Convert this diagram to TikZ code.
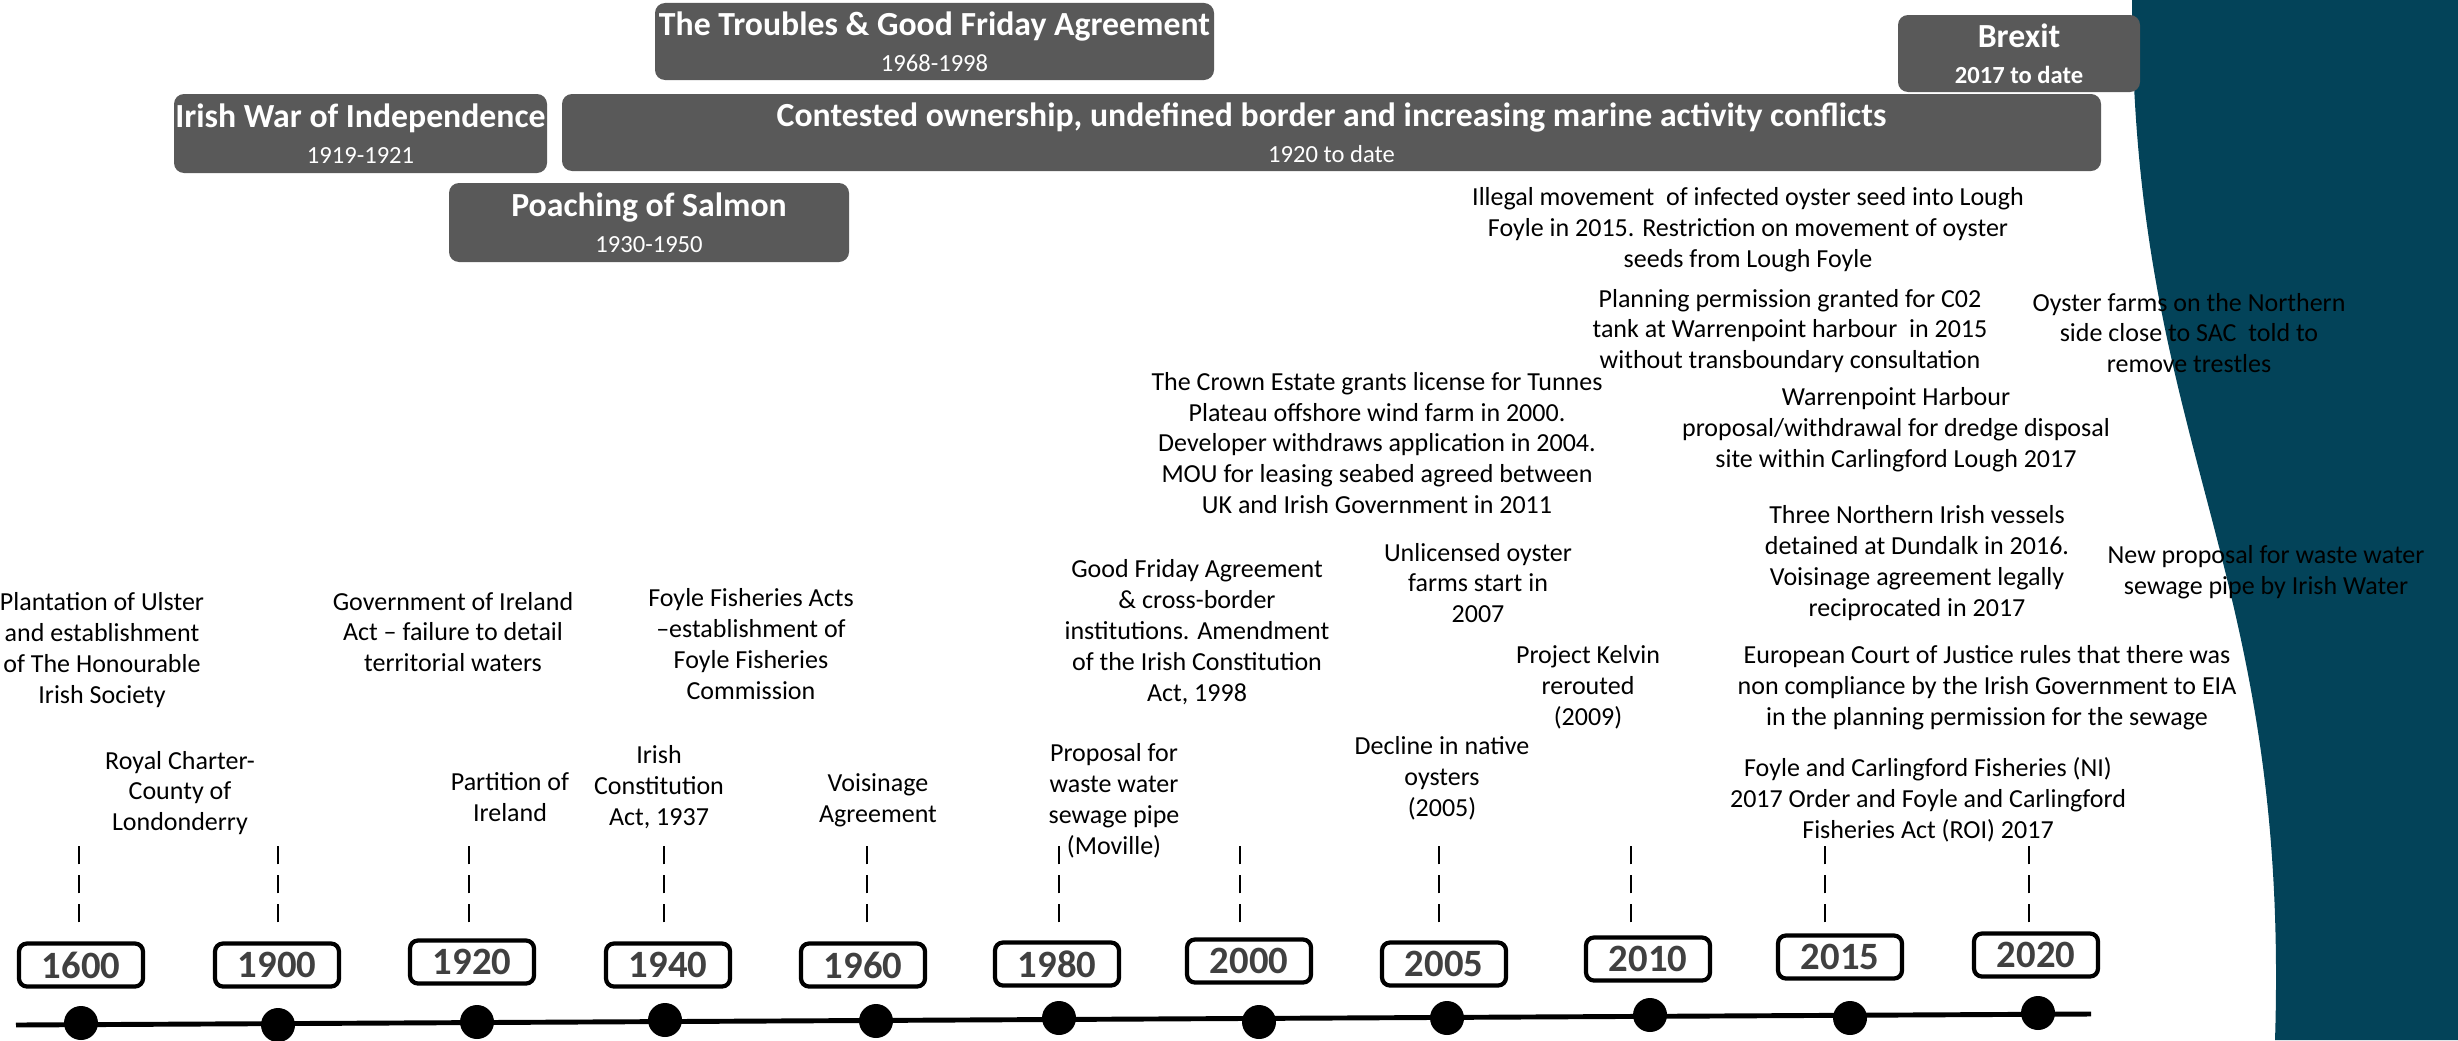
\documentclass[tikz,border=0pt]{standalone}
\usepackage{fontspec}
\setmainfont{Carlito}
\usetikzlibrary{positioning}
\definecolor{sea}{RGB}{3,67,89}
\definecolor{slab}{RGB}{89,89,89}
\definecolor{ink}{RGB}{64,64,64}
\newcommand{\pname}[1]{{\fontsize{9.6}{10.2}\selectfont\bfseries #1}}
\newcommand{\pyears}[1]{{\fontsize{7}{10.2}\selectfont #1}}
\tikzset{
  pr/.style={rectangle, rounded corners=0.1cm, fill=slab, text=white, align=center, inner sep=0pt, font=\fontsize{7}{10.2}\selectfont},
  yr/.style={rectangle, rounded corners=0.08cm, draw=black, line width=1.2pt, fill=white, minimum width=1.24cm, minimum height=0.43cm, inner sep=0pt, text=ink, font=\fontsize{11}{12}\selectfont\bfseries},
  ev/.style={align=center, inner sep=0pt, font=\fontsize{7.4}{8.8}\selectfont},
  dt/.style={circle, fill=black, minimum size=0.34cm, inner sep=0pt},
  tk/.style={dash pattern=on 0.18cm off 0.11cm, line width=0.5pt},
  tl/.style={line width=1.4pt}
}

\begin{document}
\begin{tikzpicture}[x=0.1mm, y=0.1mm]
	\useasboundingbox (0,0) rectangle (2458,1040);
	% sea on the right
	\fill[sea] (2132,1040) .. controls (2132,590) and (2290,480) .. (2275,0) -- (2458,0) -- (2458,1040) -- cycle;
	% periods
	\node[pr, minimum width=5.59cm, minimum height=0.77cm] (troubles) at (934.5,998.5) {\pname{The Troubles \& Good Friday Agreement}\\\pyears{1968-1998}};
	\node[pr, minimum width=3.73cm, minimum height=0.79cm] (war) at (360.5,906.5) {\pname{Irish War of Independence}\\\pyears{1919-1921}};
	\node[pr, minimum width=15.39cm, minimum height=0.77cm] (contested) at (1331.5,907.5) {\pname{Contested ownership, undefined border and increasing marine activity conflicts}\\\pyears{1920 to date}};
	\node[pr, minimum width=4cm, minimum height=0.79cm] (salmon) at (649,817.5) {\pname{Poaching of Salmon}\\\pyears{1930-1950}};
	\node[pr, minimum width=2.42cm, minimum height=0.77cm] (brexit) at (2019,986.5) {\pname{Brexit}\\\pyears{\bfseries 2017 to date}};
	% time line
	\coordinate (tl0) at (16,15);
	\coordinate (tl1) at (2091,26);
	\draw[tl] (tl0) -- (tl1);
	\node[dt] (d1600) at (81,17) {};
	\node[dt] (d1900) at (278,15) {};
	\node[dt] (d1920) at (477,18) {};
	\node[dt] (d1940) at (665,20) {};
	\node[dt] (d1960) at (876,19) {};
	\node[dt] (d1980) at (1059,22) {};
	\node[dt] (d2000) at (1259,18) {};
	\node[dt] (d2005) at (1447,22) {};
	\node[dt] (d2010) at (1650,25) {};
	\node[dt] (d2015) at (1850,22) {};
	\node[dt] (d2020) at (2038,27) {};
	% years
	\node[yr] (y1600) at (81,75) {1600};
	\node[yr] (y1900) at (277,75) {1900};
	\node[yr] (y1920) at (472,78) {1920};
	\node[yr] (y1940) at (668,75) {1940};
	\node[yr] (y1960) at (863,75) {1960};
	\node[yr] (y1980) at (1057,76) {1980};
	\node[yr] (y2000) at (1249,79) {2000};
	\node[yr] (y2005) at (1444,76) {2005};
	\node[yr] (y2010) at (1648,81) {2010};
	\node[yr] (y2015) at (1840,83) {2015};
	\node[yr] (y2020) at (2036,85) {2020};
	% ticks
	\draw[tk] (y1600.north) ++(-2,19) -- ++(0,78);
	\draw[tk] (y1900.north) ++(1,19) -- ++(0,78);
	\draw[tk] (y1920.north) ++(-3,16) -- ++(0,78);
	\draw[tk] (y1940.north) ++(-4,19) -- ++(0,78);
	\draw[tk] (y1960.north) ++(4,19) -- ++(0,78);
	\draw[tk] (y1980.north) ++(2,18) -- ++(0,78);
	\draw[tk] (y2000.north) ++(-9,15) -- ++(0,80);
	\draw[tk] (y2005.north) ++(-5,18) -- ++(0,80);
	\draw[tk] (y2010.north) ++(-17,13) -- ++(0,80);
	\draw[tk] (y2015.north) ++(-15,11) -- ++(0,80);
	\draw[tk] (y2020.north) ++(-7,9) -- ++(0,80);
	% events
	\node[ev] (plant) at (102,390) {Plantation of Ulster\\and establishment\\of The Honourable\\Irish Society};
	\node[ev] (charter) at (180,247) {Royal Charter-\\County of\\Londonderry};
	\node[ev] (govact) at (453,408) {Government of Ireland\\Act -- failure to detail\\territorial waters};
	\node[ev] (partition) at (510,243) {Partition of\\Ireland};
	\node[ev] (foyleacts) at (751,396) {Foyle Fisheries Acts\\--establishment of\\Foyle Fisheries\\Commission};
	\node[ev] (const) at (659,253) {Irish\\Constitution\\Act, 1937};
	\node[ev] (vois) at (878,240) {Voisinage\\Agreement};
	\node[ev] (moville) at (1114,239) {Proposal for\\waste water\\sewage pipe\\(Moville)};
	\node[ev] (gfa) at (1197,408) {Good Friday Agreement\\\& cross-border\\institutions. Amendment\\of the Irish Constitution\\Act, 1998};
	\node[ev] (crown) at (1377,597) {The Crown Estate grants license for Tunnes\\Plateau offshore wind farm in 2000.\\Developer withdraws application in 2004.\\MOU for leasing seabed agreed between\\UK and Irish Government in 2011};
	\node[ev] (unlic) at (1478,457) {Unlicensed oyster\\farms start in\\2007};
	\node[ev] (kelvin) at (1588,353) {Project Kelvin\\rerouted\\(2009)};
	\node[ev] (decline) at (1442,262) {Decline in native\\oysters\\(2005)};
	\node[ev] (seed) at (1748,810) {Illegal movement\ \ of infected oyster seed into Lough\\Foyle in 2015. Restriction on movement of oyster\\seeds from Lough Foyle};
	\node[ev] (tank) at (1790,709) {Planning permission granted for C02\\tank at Warrenpoint harbour\ \ in 2015\\without transboundary consultation};
	\node[ev] (trestles) at (2189,707) {Oyster farms on the Northern\\side close to SAC\ \ told to\\remove trestles};
	\node[ev] (dredge) at (1896,610) {Warrenpoint Harbour\\proposal/withdrawal for dredge disposal\\site within Carlingford Lough 2017};
	\node[ev] (vessels) at (1917,477) {Three Northern Irish vessels\\detained at Dundalk in 2016.\\Voisinage agreement legally\\reciprocated in 2017};
	\node[ev] (newpipe) at (2266,468) {New proposal for waste water\\sewage pipe by Irish Water};
	\node[ev] (ecj) at (1987,352) {European Court of Justice rules that there was\\non compliance by the Irish Government to EIA\\in the planning permission for the sewage};
	\node[ev] (fisheries) at (1928,240) {Foyle and Carlingford Fisheries (NI)\\2017 Order and Foyle and Carlingford\\Fisheries Act (ROI) 2017};
\end{tikzpicture}
\end{document}
